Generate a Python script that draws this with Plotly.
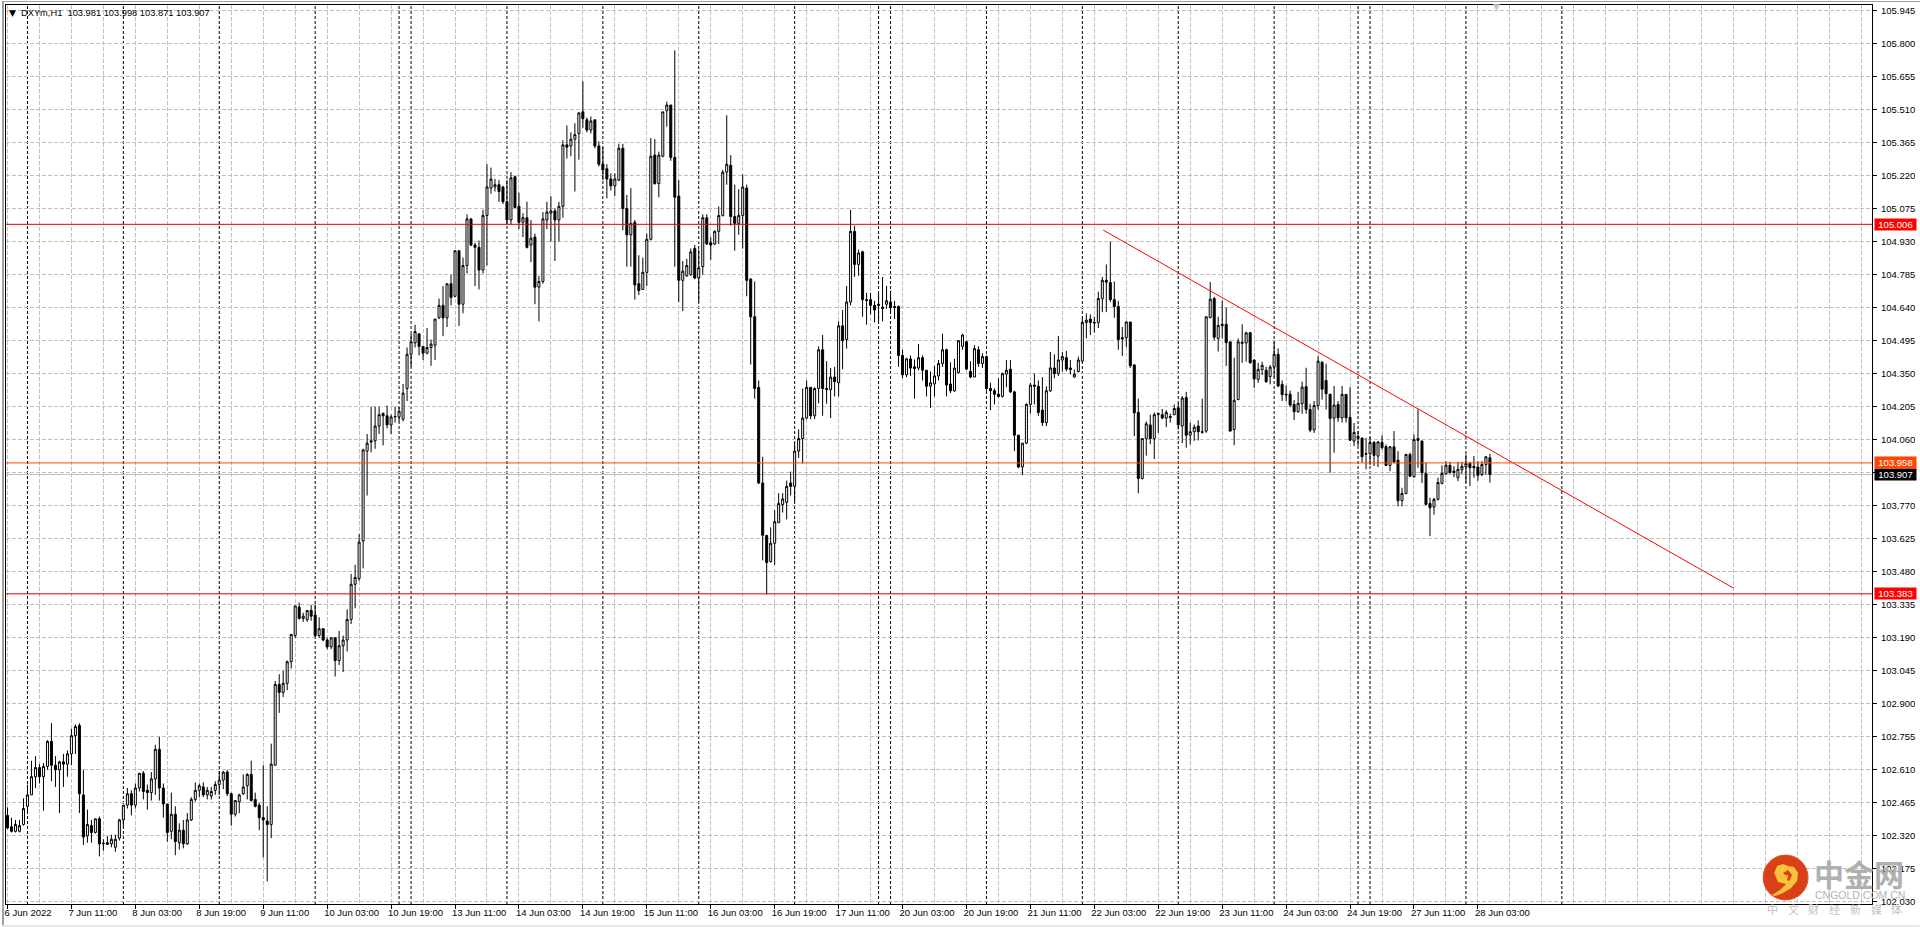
"""DXYm H1 candlestick chart, MT4 style, with support/resistance levels."""
import plotly.graph_objects as go

open_ = [
    102.41, 102.36, 102.34, 102.34, 102.37, 102.45, 102.50, 102.58, 102.62, 102.58,
    102.625, 102.735, 102.63, 102.61, 102.645, 102.635, 102.68, 102.76, 102.805, 102.50,
    102.32, 102.365, 102.335, 102.395, 102.285, 102.29, 102.285, 102.27, 102.31, 102.39,
    102.455, 102.505, 102.455, 102.53, 102.595, 102.52, 102.51, 102.57, 102.70, 102.53,
    102.46, 102.34, 102.415, 102.29, 102.345, 102.285, 102.39, 102.48, 102.52, 102.535,
    102.50, 102.495, 102.52, 102.545, 102.565, 102.60, 102.505, 102.415, 102.47, 102.505,
    102.54, 102.59, 102.48, 102.455, 102.40, 102.385, 102.37, 102.63, 102.985, 102.95,
    102.99, 103.085, 103.20, 103.325, 103.275, 103.27, 103.31, 103.29, 103.20, 103.23,
    103.18, 103.15, 103.19, 103.09, 103.155, 103.18, 103.27, 103.425, 103.45, 103.615,
    104.01, 104.055, 104.055, 104.12, 104.175, 104.165, 104.125, 104.16, 104.16, 104.15,
    104.285, 104.435, 104.485, 104.525, 104.47, 104.44, 104.465, 104.475, 104.595, 104.65,
    104.595, 104.745, 104.69, 104.89, 104.655, 104.825, 105.03, 104.915, 104.905, 104.805,
    105.045, 105.165, 105.17, 105.18, 105.17, 105.105, 105.025, 105.215, 105.085, 105.015,
    105.035, 104.915, 104.95, 104.73, 104.755, 105.025, 105.055, 105.065, 105.025, 105.085,
    105.355, 105.35, 105.38, 105.405, 105.5, 105.465, 105.42, 105.465, 105.35, 105.27,
    105.25, 105.205, 105.175, 105.2, 105.34, 105.075, 104.96, 105.015, 104.745, 104.72,
    104.795, 104.94, 105.31, 105.185, 105.305, 105.505, 105.53, 105.3, 105.13, 104.76,
    104.78, 104.785, 104.9, 104.77, 104.82, 105.035, 104.925, 104.92, 104.975, 105.045,
    105.235, 105.265, 105.04, 105.01, 105.045, 105.165, 104.765, 104.6, 104.29, 103.87,
    103.64, 103.525, 103.605, 103.695, 103.775, 103.785, 103.87, 103.855, 104.01, 104.065,
    104.155, 104.29, 104.165, 104.285, 104.455, 104.285, 104.28, 104.335, 104.31, 104.56,
    104.5, 104.665, 104.975, 104.83, 104.885, 104.675, 104.675, 104.65, 104.655, 104.642,
    104.655, 104.665, 104.645, 104.645, 104.43, 104.345, 104.415, 104.38, 104.375, 104.42,
    104.365, 104.295, 104.305, 104.34, 104.395, 104.455, 104.305, 104.275, 104.355, 104.47,
    104.49, 104.36, 104.335, 104.455, 104.395, 104.425, 104.285, 104.275, 104.26, 104.25,
    104.348, 104.37, 104.27, 104.08, 103.94, 104.045, 104.215, 104.3, 104.295, 104.19,
    104.135, 104.275, 104.375, 104.35, 104.41, 104.42, 104.375, 104.335, 104.36, 104.405,
    104.575, 104.59, 104.575, 104.575, 104.68, 104.76, 104.75, 104.675, 104.645, 104.508,
    104.508, 104.577, 104.388, 104.18, 103.89, 104.065, 104.125, 104.065, 104.17, 104.17,
    104.155, 104.162, 104.17, 104.2, 104.12, 104.245, 104.08, 104.095, 104.12, 104.095,
    104.098, 104.597, 104.68, 104.505, 104.567, 104.567, 104.49, 104.105, 104.236, 104.483,
    104.485, 104.53, 104.41, 104.325, 104.368, 104.365, 104.337, 104.379, 104.435, 104.303,
    104.26, 104.26, 104.215, 104.183, 104.218, 104.293, 104.193, 104.103, 104.21, 104.4,
    104.32, 104.26, 104.155, 104.215, 104.156, 104.259, 104.158, 104.054, 104.075, 104.067,
    103.999, 103.998, 104.048, 103.988, 104.048, 104.03, 103.947, 104.029, 103.97, 103.793,
    103.824, 103.995, 103.897, 104.065, 104.054, 103.912, 103.78, 103.764, 103.798, 103.868,
    103.91, 103.947, 103.922, 103.893, 103.928, 103.941, 103.956, 103.943, 103.94, 103.907,
    103.951, 103.981,
]
high = [
    102.445, 102.40, 102.39, 102.39, 102.485, 102.545, 102.65, 102.67, 102.635, 102.64,
    102.74, 102.815, 102.67, 102.65, 102.68, 102.695, 102.79, 102.81, 102.815, 102.61,
    102.435, 102.39, 102.395, 102.405, 102.305, 102.32, 102.325, 102.325, 102.395, 102.455,
    102.53, 102.52, 102.55, 102.595, 102.605, 102.545, 102.60, 102.72, 102.755, 102.55,
    102.46, 102.51, 102.45, 102.375, 102.39, 102.42, 102.49, 102.555, 102.55, 102.555,
    102.535, 102.535, 102.56, 102.605, 102.605, 102.61, 102.51, 102.475, 102.505, 102.59,
    102.595, 102.65, 102.51, 102.465, 102.63, 102.45, 102.725, 103.00, 103.03, 103.045,
    103.09, 103.205, 103.33, 103.345, 103.30, 103.31, 103.335, 103.335, 103.28, 103.23,
    103.19, 103.19, 103.19, 103.22, 103.20, 103.315, 103.47, 103.51, 103.645, 104.02,
    104.085, 104.205, 104.205, 104.205, 104.18, 104.21, 104.17, 104.205, 104.205, 104.305,
    104.465, 104.525, 104.565, 104.525, 104.47, 104.55, 104.50, 104.59, 104.68, 104.735,
    104.745, 104.785, 104.89, 104.89, 104.86, 105.05, 105.03, 104.925, 104.935, 105.07,
    105.27, 105.255, 105.205, 105.2, 105.175, 105.2, 105.235, 105.22, 105.145, 105.055,
    105.105, 105.025, 104.965, 104.78, 105.06, 105.105, 105.13, 105.075, 105.105, 105.375,
    105.44, 105.41, 105.45, 105.5, 105.635, 105.475, 105.48, 105.465, 105.37, 105.345,
    105.27, 105.23, 105.23, 105.36, 105.36, 105.135, 105.165, 105.025, 104.87, 104.86,
    104.965, 105.385, 105.38, 105.325, 105.5, 105.545, 105.53, 105.77, 105.2, 104.845,
    104.855, 104.9, 104.915, 104.895, 105.05, 105.05, 104.95, 104.98, 105.085, 105.245,
    105.485, 105.31, 105.18, 105.16, 105.225, 105.18, 104.77, 104.755, 104.32, 103.985,
    103.64, 103.675, 103.75, 103.825, 103.825, 103.88, 103.92, 104.045, 104.105, 104.285,
    104.32, 104.29, 104.29, 104.47, 104.52, 104.405, 104.375, 104.38, 104.58, 104.63,
    104.735, 105.07, 105.0, 104.895, 104.89, 104.705, 104.705, 104.67, 104.705, 104.775,
    104.735, 104.715, 104.67, 104.65, 104.455, 104.42, 104.43, 104.412, 104.48, 104.43,
    104.365, 104.36, 104.385, 104.41, 104.525, 104.46, 104.4, 104.415, 104.495, 104.525,
    104.495, 104.405, 104.475, 104.47, 104.44, 104.43, 104.31, 104.285, 104.33, 104.355,
    104.41, 104.41, 104.275, 104.08, 104.045, 104.22, 104.31, 104.35, 104.32, 104.335,
    104.295, 104.445, 104.435, 104.515, 104.445, 104.45, 104.41, 104.368, 104.425, 104.595,
    104.615, 104.61, 104.6, 104.71, 104.775, 104.83, 104.93, 104.755, 104.67, 104.555,
    104.58, 104.577, 104.392, 104.24, 104.065, 104.14, 104.17, 104.18, 104.18, 104.195,
    104.19, 104.175, 104.215, 104.222, 104.252, 104.27, 104.135, 104.127, 104.145, 104.24,
    104.6, 104.753, 104.687, 104.6, 104.67, 104.64, 104.49, 104.42, 104.505, 104.567,
    104.534, 104.533, 104.413, 104.398, 104.403, 104.381, 104.388, 104.49, 104.461, 104.32,
    104.298, 104.276, 104.234, 104.27, 104.315, 104.376, 104.218, 104.23, 104.427, 104.405,
    104.394, 104.26, 104.296, 104.23, 104.296, 104.259, 104.291, 104.133, 104.098, 104.07,
    104.068, 104.072, 104.054, 104.054, 104.08, 104.039, 104.032, 104.098, 104.01, 103.849,
    103.998, 104.003, 104.083, 104.193, 104.057, 103.959, 103.805, 103.805, 103.893, 103.947,
    103.966, 103.963, 103.944, 103.963, 103.963, 103.995, 103.963, 103.988, 103.966, 103.966,
    103.988, 103.998,
]
low = [
    102.35, 102.335, 102.335, 102.335, 102.365, 102.425, 102.50, 102.53, 102.55, 102.43,
    102.61, 102.56, 102.535, 102.42, 102.535, 102.58, 102.63, 102.68, 102.42, 102.28,
    102.29, 102.29, 102.33, 102.23, 102.255, 102.28, 102.27, 102.25, 102.30, 102.36,
    102.44, 102.41, 102.44, 102.515, 102.48, 102.435, 102.475, 102.50, 102.475, 102.40,
    102.295, 102.305, 102.235, 102.26, 102.265, 102.28, 102.385, 102.47, 102.49, 102.49,
    102.48, 102.48, 102.50, 102.50, 102.525, 102.495, 102.365, 102.405, 102.42, 102.50,
    102.48, 102.47, 102.445, 102.345, 102.225, 102.12, 102.31, 102.63, 102.86, 102.93,
    102.96, 103.055, 103.19, 103.27, 103.26, 103.26, 103.265, 103.19, 103.19, 103.175,
    103.14, 103.14, 103.02, 103.07, 103.04, 103.13, 103.25, 103.32, 103.44, 103.495,
    103.815, 104.005, 104.02, 104.085, 104.035, 104.11, 104.085, 104.135, 104.14, 104.14,
    104.23, 104.38, 104.465, 104.43, 104.41, 104.435, 104.385, 104.41, 104.59, 104.515,
    104.555, 104.65, 104.685, 104.56, 104.615, 104.79, 104.91, 104.735, 104.72, 104.79,
    104.825, 105.14, 105.15, 105.105, 105.095, 105.005, 105.005, 105.075, 104.985, 104.95,
    104.9, 104.84, 104.655, 104.58, 104.745, 104.985, 104.93, 104.845, 104.93, 105.035,
    105.295, 105.305, 105.15, 105.29, 105.43, 105.41, 105.405, 105.34, 105.26, 105.2,
    105.12, 105.155, 105.13, 105.195, 104.98, 104.82, 104.82, 104.675, 104.695, 104.72,
    104.735, 104.935, 105.18, 105.125, 105.3, 105.435, 105.285, 104.82, 104.665, 104.625,
    104.775, 104.78, 104.765, 104.665, 104.785, 104.915, 104.85, 104.915, 104.92, 105.04,
    105.18, 105.0, 104.89, 104.96, 104.9, 104.69, 104.39, 104.24, 103.865, 103.53,
    103.38, 103.52, 103.51, 103.695, 103.74, 103.71, 103.815, 103.79, 103.98, 103.955,
    104.15, 104.15, 104.15, 104.22, 104.165, 104.218, 104.155, 104.25, 104.25, 104.37,
    104.46, 104.65, 104.775, 104.78, 104.6, 104.565, 104.61, 104.575, 104.575, 104.58,
    104.635, 104.615, 104.59, 104.38, 104.33, 104.335, 104.34, 104.24, 104.365, 104.32,
    104.25, 104.2, 104.25, 104.32, 104.38, 104.25, 104.265, 104.27, 104.35, 104.455,
    104.365, 104.33, 104.335, 104.38, 104.375, 104.275, 104.19, 104.215, 104.245, 104.245,
    104.29, 104.265, 104.01, 103.935, 103.905, 104.04, 104.175, 104.215, 104.165, 104.12,
    104.12, 104.27, 104.33, 104.34, 104.36, 104.36, 104.347, 104.332, 104.355, 104.4,
    104.505, 104.52, 104.53, 104.55, 104.62, 104.62, 104.665, 104.595, 104.455, 104.428,
    104.467, 104.375, 104.076, 103.825, 103.885, 103.99, 104.04, 103.975, 104.09, 104.15,
    104.115, 104.135, 104.168, 104.105, 104.045, 104.025, 104.04, 104.055, 104.057, 104.086,
    104.09, 104.593, 104.496, 104.447, 104.505, 104.384, 104.095, 104.036, 104.234, 104.398,
    104.403, 104.394, 104.288, 104.31, 104.344, 104.309, 104.303, 104.335, 104.291, 104.23,
    104.23, 104.203, 104.146, 104.178, 104.174, 104.174, 104.093, 104.09, 104.192, 104.236,
    104.192, 103.915, 104.003, 104.138, 104.135, 104.135, 104.054, 104.032, 104.032, 103.959,
    103.93, 103.949, 103.944, 103.94, 104.017, 103.944, 103.922, 103.957, 103.767, 103.767,
    103.82, 103.896, 103.893, 103.937, 103.87, 103.771, 103.636, 103.73, 103.793, 103.864,
    103.907, 103.912, 103.896, 103.878, 103.91, 103.871, 103.856, 103.893, 103.88, 103.9,
    103.907, 103.871,
]
close = [
    102.355, 102.34, 102.37, 102.365, 102.44, 102.50, 102.58, 102.62, 102.58, 102.625,
    102.735, 102.63, 102.61, 102.645, 102.635, 102.68, 102.76, 102.80, 102.505, 102.315,
    102.37, 102.335, 102.395, 102.285, 102.287, 102.283, 102.305, 102.305, 102.39, 102.455,
    102.505, 102.455, 102.53, 102.595, 102.515, 102.51, 102.57, 102.70, 102.53, 102.46,
    102.335, 102.415, 102.295, 102.345, 102.285, 102.39, 102.48, 102.52, 102.54, 102.50,
    102.52, 102.515, 102.545, 102.565, 102.60, 102.505, 102.415, 102.475, 102.50, 102.535,
    102.59, 102.475, 102.45, 102.40, 102.39, 102.37, 102.635, 102.985, 102.95, 102.99,
    103.085, 103.205, 103.33, 103.275, 103.285, 103.31, 103.285, 103.20, 103.23, 103.18,
    103.15, 103.19, 103.09, 103.155, 103.18, 103.27, 103.425, 103.455, 103.61, 104.015,
    104.045, 104.05, 104.12, 104.17, 104.165, 104.125, 104.16, 104.162, 104.185, 104.265,
    104.435, 104.49, 104.535, 104.47, 104.44, 104.465, 104.48, 104.59, 104.65, 104.595,
    104.745, 104.685, 104.89, 104.655, 104.825, 105.03, 104.915, 104.905, 104.805, 105.045,
    105.17, 105.205, 105.18, 105.15, 105.105, 105.025, 105.21, 105.08, 105.015, 105.035,
    104.905, 104.945, 104.73, 104.755, 105.03, 105.06, 105.065, 105.025, 105.085, 105.355,
    105.345, 105.38, 105.40, 105.495, 105.47, 105.42, 105.46, 105.35, 105.27, 105.245,
    105.205, 105.175, 105.205, 105.34, 105.075, 104.96, 105.01, 104.74, 104.715, 104.795,
    104.94, 105.305, 105.185, 105.31, 105.5, 105.53, 105.3, 105.125, 104.76, 104.8,
    104.825, 104.885, 104.77, 104.815, 105.035, 104.92, 104.915, 104.975, 105.045, 105.235,
    105.27, 105.04, 105.01, 105.045, 105.17, 104.76, 104.6, 104.285, 103.87, 103.64,
    103.52, 103.605, 103.7, 103.78, 103.8, 103.855, 103.855, 104.01, 104.065, 104.155,
    104.29, 104.165, 104.285, 104.455, 104.285, 104.28, 104.335, 104.315, 104.56, 104.495,
    104.665, 104.975, 104.83, 104.88, 104.675, 104.672, 104.65, 104.63, 104.65, 104.637,
    104.67, 104.64, 104.64, 104.43, 104.345, 104.415, 104.375, 104.372, 104.42, 104.365,
    104.295, 104.31, 104.34, 104.395, 104.455, 104.3, 104.275, 104.375, 104.495, 104.52,
    104.37, 104.335, 104.46, 104.395, 104.425, 104.285, 104.275, 104.26, 104.25, 104.35,
    104.365, 104.27, 104.08, 103.94, 104.045, 104.215, 104.3, 104.295, 104.18, 104.135,
    104.275, 104.375, 104.35, 104.41, 104.425, 104.37, 104.368, 104.348, 104.41, 104.575,
    104.585, 104.575, 104.573, 104.68, 104.76, 104.752, 104.675, 104.645, 104.5, 104.503,
    104.577, 104.385, 104.178, 103.89, 104.065, 104.13, 104.065, 104.17, 104.175, 104.155,
    104.18, 104.158, 104.197, 104.125, 104.243, 104.08, 104.095, 104.115, 104.095, 104.093,
    104.6, 104.677, 104.51, 104.562, 104.561, 104.486, 104.098, 104.233, 104.49, 104.488,
    104.529, 104.398, 104.327, 104.369, 104.387, 104.315, 104.379, 104.435, 104.296, 104.258,
    104.257, 104.212, 104.183, 104.22, 104.291, 104.193, 104.102, 104.21, 104.405, 104.282,
    104.262, 104.153, 104.212, 104.156, 104.259, 104.156, 104.058, 104.092, 104.066, 103.985,
    103.997, 104.048, 103.991, 104.05, 104.025, 103.947, 104.029, 103.962, 103.792, 103.824,
    103.995, 103.9, 104.061, 104.057, 103.915, 103.776, 103.761, 103.798, 103.872, 103.912,
    103.948, 103.915, 103.916, 103.93, 103.943, 103.956, 103.937, 103.937, 103.904, 103.951,
    103.985, 103.907,
]

time_labels = [
    "6 Jun 2022", "7 Jun 11:00", "8 Jun 03:00", "8 Jun 19:00", "9 Jun 11:00",
    "10 Jun 03:00", "10 Jun 19:00", "13 Jun 11:00", "14 Jun 03:00", "14 Jun 19:00",
    "15 Jun 11:00", "16 Jun 03:00", "16 Jun 19:00", "17 Jun 11:00", "20 Jun 03:00",
    "20 Jun 19:00", "21 Jun 11:00", "22 Jun 03:00", "22 Jun 19:00", "23 Jun 11:00",
    "24 Jun 03:00", "24 Jun 19:00", "27 Jun 11:00", "28 Jun 03:00",
]
label_bars = list(range(0, 384, 16))
# bars where the terminal draws its period separators
separator_bars = [5, 29, 53, 77, 98, 101, 125, 149, 173, 197, 218, 221, 245, 269,
                  293, 317, 338, 341, 365, 389]

red_levels = [105.006, 103.383]
orange_level = 103.958
last_price = 103.907
trend_bars = [274.2, 432]
trend_prices = [104.981, 103.408]

W, H = 1920, 927
L, R, T, B = 4, 48, 4, 23


def px(x):
    return (x - L) / (W - L - R)


def py(y):
    return 1 - (y - T) / (H - T - B)


bars = list(range(len(close)))
fig = go.Figure()
fig.add_trace(go.Candlestick(
    x=bars, open=open_, high=high, low=low, close=close,
    increasing=dict(line=dict(color="black", width=1), fillcolor="white"),
    decreasing=dict(line=dict(color="black", width=1), fillcolor="black"),
    whiskerwidth=0, showlegend=False,
))
fig.add_trace(go.Scatter(
    x=trend_bars, y=trend_prices, mode="lines",
    line=dict(color="#ff0000", width=1), showlegend=False,
))

shapes = []
for b in separator_bars:
    shapes.append(dict(type="line", xref="x", yref="paper", x0=b, x1=b, y0=0, y1=1,
                       layer="below", line=dict(color="black", width=1, dash="3px,2px")))
for lvl in red_levels:
    shapes.append(dict(type="line", xref="paper", yref="y", x0=0, x1=1, y0=lvl, y1=lvl,
                       line=dict(color="#e00000", width=1)))
shapes.append(dict(type="line", xref="paper", yref="y", x0=0, x1=1,
                   y0=orange_level, y1=orange_level, line=dict(color="#ff4500", width=1)))
shapes.append(dict(type="line", xref="paper", yref="y", x0=0, x1=1,
                   y0=last_price, y1=last_price, layer="below",
                   line=dict(color="#c0c0c0", width=1)))

# window edges
shapes.append(dict(type="line", xref="paper", yref="paper", x0=px(0), x1=px(W),
                   y0=py(0.5), y1=py(0.5), line=dict(color="#a0a0a0", width=1)))
shapes.append(dict(type="line", xref="paper", yref="paper", x0=px(1), x1=px(1),
                   y0=py(0), y1=py(H), line=dict(color="#a0a0a0", width=2)))
shapes.append(dict(type="line", xref="paper", yref="paper", x0=px(0), x1=px(W),
                   y0=py(926), y1=py(926), line=dict(color="#e8e8e8", width=2)))

# logo
shapes.append(dict(type="circle", xref="paper", yref="paper",
                   x0=px(1763), x1=px(1808), y0=py(900), y1=py(855),
                   fillcolor="#d9401a", line=dict(color="#e0551f", width=1)))
swirl = [(1774, 873), (1777, 866), (1783, 864), (1788, 866), (1794, 867), (1798, 873),
         (1797, 881), (1791, 888), (1783, 893), (1775, 896), (1772, 895), (1780, 890),
         (1786, 884), (1778, 882)]
shapes.append(dict(type="path", xref="paper", yref="paper", line=dict(width=0),
                   fillcolor="#f8c23c",
                   path="M " + " L ".join(f"{px(x):.5f},{py(y):.5f}" for x, y in swirl) + " Z"))
curl = [(1783, 873), (1788, 870), (1792, 875), (1789, 881), (1787, 880), (1788, 875),
        (1785, 875)]
shapes.append(dict(type="path", xref="paper", yref="paper", line=dict(width=0),
                   fillcolor="#d9401a",
                   path="M " + " L ".join(f"{px(x):.5f},{py(y):.5f}" for x, y in curl) + " Z"))

FONT = "Liberation Sans"
annotations = [
    dict(text="▼", x=px(5), y=py(12.5), font=dict(size=9, color="black", family="DejaVu Sans")),
    dict(text="DXYm,H1\u00a0\u00a0103.981 103.998 103.871 103.907", x=px(17), y=py(12.5),
         font=dict(size=9.3, color="black", family=FONT)),
    dict(text="▼", x=px(1491), y=py(6), font=dict(size=9, color="#c8c8c8", family="DejaVu Sans")),
    dict(text="<b>中金网</b>", x=px(1812), y=py(873),
         font=dict(size=30, color="#b0b0b0", family="Noto Sans CJK SC")),
    dict(text="CNGOLD.COM.CN", x=px(1813), y=py(895),
         font=dict(size=10.5, color="#b4b4b4", family=FONT)),
]
for k, ch in enumerate("中文财经新媒体"):
    annotations.append(dict(text=ch, x=px(1765 + k * 20.7), y=py(909.5),
                            font=dict(size=11, color="#c0c0c0", family="Noto Sans CJK SC")))
for lvl, col in [(105.006, "#ff0000"), (103.907, "black"), (103.958, "#ff4500"), (103.383, "#ff0000")]:
    annotations.append(dict(text=f"{lvl:.3f}", x=px(1874), y=lvl, yref="y",
                            font=dict(size=9.5, color="white", family=FONT),
                            bgcolor=col, borderpad=0, width=41, height=11, align="center"))
for a in annotations:
    a.setdefault("xref", "paper")
    a.setdefault("yref", "paper")
    a.update(xanchor="left", yanchor="middle", showarrow=False)

grid = dict(color="#c0c0c0", width=1)
fig.update_layout(
    width=W, height=H, autosize=False,
    margin=dict(l=L, r=R, t=T, b=B, pad=0),
    paper_bgcolor="white", plot_bgcolor="white",
    boxgap=0.5, boxgroupgap=0,
    font=dict(family=FONT, size=9.5, color="black"),
    shapes=shapes, annotations=annotations,
    xaxis=dict(
        type="linear", range=[-0.375, 466.625], rangeslider=dict(visible=False),
        tickvals=label_bars, ticktext=time_labels, ticklabelposition="outside right",
        ticklabelshift=-4,
        tickangle=0, ticks="outside", ticklen=4, tickcolor="black", tickfont=dict(size=9.5),
        showgrid=True, gridcolor=grid["color"], gridwidth=1, griddash="4px,2px",
        minor=dict(dtick=8, tick0=0, showgrid=True, gridcolor=grid["color"],
                   griddash="4px,2px", ticks=""),
        showline=True, mirror=True, linecolor="black", linewidth=1, zeroline=False,
    ),
    yaxis=dict(
        side="right", range=[102.0207, 105.9693], tick0=102.03, dtick=0.145,
        tickformat=".3f", ticks="outside", ticklen=4, tickcolor="black",
        tickfont=dict(size=9.5), ticklabelstandoff=2,
        showgrid=True, gridcolor=grid["color"], gridwidth=1, griddash="4px,2px",
        showline=True, mirror=True, linecolor="black", linewidth=1, zeroline=False,
    ),
)
# the default page margin of 8px would push the chart off the window
fig.write_html("out.html", config={"displayModeBar": False},
               post_script="document.body.style.margin='0';")
